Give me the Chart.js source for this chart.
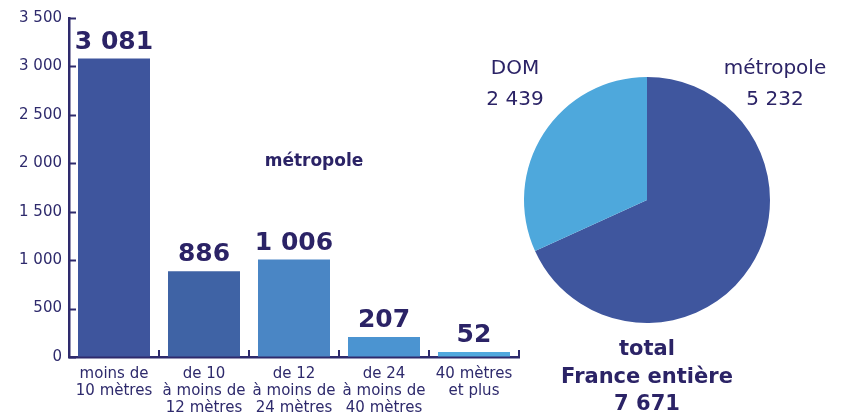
<!DOCTYPE html>
<html>
<head>
<meta charset="utf-8">
<script src="https://cdn.jsdelivr.net/npm/chart.js@4"></script>
<style>
  html, body { margin: 0; padding: 0; background: #fff; }
  #wrap { position: relative; width: 846px; height: 417px; }
  #barBox { position: absolute; left: 0; top: 0; width: 530px; height: 417px; }
  #pieBox { position: absolute; left: 460px; top: 0; width: 386px; height: 417px; }
</style>
</head>
<body>
<div id="wrap">
  <div id="barBox"><canvas id="bar"></canvas></div>
  <div id="pieBox"><canvas id="pie"></canvas></div>
</div>
<script>
// data
const categories = [
  ['moins de', '10 mètres'],
  ['de 10', 'à moins de', '12 mètres'],
  ['de 12', 'à moins de', '24 mètres'],
  ['de 24', 'à moins de', '40 mètres'],
  ['40 mètres', 'et plus']
];
const boats = [3081, 886, 1006, 207, 52];
const barColors = ['#3e559d', '#3f63a5', '#4a86c5', '#4b94d1', '#50a8de'];

const pieLabels = ['métropole', 'DOM'];
const pieValues = [5232, 2439];
const pieColors = ['#3f569e', '#4ea8dc'];
const total = 7671;

const ink = '#2b2366';
const axisInk = '#2e2a6c';
const fmt = v => String(v).replace(/\B(?=(\d{3})+(?!\d))/g, ' ');

// inward ticks on y, upward ticks at category boundaries on x, value labels
const barDeco = {
  id: 'barDeco',
  afterDraw(chart) {
    const ctx = chart.ctx;
    const y = chart.scales.y, x = chart.scales.x;
    const area = chart.chartArea;
    ctx.save();
    ctx.strokeStyle = axisInk;
    ctx.lineWidth = 2;
    y.ticks.forEach(t => {
      const py = Math.round(y.getPixelForValue(t.value)) + 0.5;
      ctx.beginPath();
      ctx.moveTo(area.left, py);
      ctx.lineTo(area.left + 7, py);
      ctx.stroke();
    });
    const step = x.getPixelForValue(1) - x.getPixelForValue(0);
    for (let i = 0; i < categories.length; i++) {
      const px = x.getPixelForValue(i) + step / 2;
      ctx.beginPath();
      ctx.moveTo(px, area.bottom);
      ctx.lineTo(px, area.bottom - 7);
      ctx.stroke();
    }
    // value labels
    ctx.fillStyle = ink;
    ctx.font = 'bold 25px "DejaVu Sans"';
    ctx.textAlign = 'center';
    ctx.textBaseline = 'alphabetic';
    const meta = chart.getDatasetMeta(0);
    meta.data.forEach((bar, i) => {
      ctx.fillText(fmt(boats[i]), bar.x, bar.y - 10);
    });
    ctx.font = 'bold 17px "DejaVu Sans"';
    ctx.textBaseline = 'middle';
    ctx.fillText('métropole', 314, 162);
    ctx.restore();
  }
};

new Chart(document.getElementById('bar'), {
  type: 'bar',
  data: {
    labels: categories,
    datasets: [{
      data: boats,
      backgroundColor: barColors,
      borderWidth: 0,
      barPercentage: 0.8,
      categoryPercentage: 1.0
    }]
  },
  options: {
    responsive: true,
    maintainAspectRatio: false,
    animation: false,
    layout: { padding: { top: 18, right: 11, bottom: 0, left: 0 } },
    plugins: { legend: { display: false }, tooltip: { enabled: false } },
    scales: {
      y: {
        min: 0, max: 3500,
        afterFit: s => { s.width = 69; },
        ticks: {
          stepSize: 500,
          padding: 7,
          color: axisInk,
          font: { family: 'DejaVu Sans', size: 15 },
          callback: v => fmt(v)
        },
        grid: { drawOnChartArea: false, drawTicks: false },
        border: { display: true, color: axisInk, width: 2.5 }
      },
      x: {
        afterFit: s => { s.height = 60; },
        ticks: {
          padding: 9,
          color: axisInk,
          font: { family: 'DejaVu Sans', size: 15, lineHeight: 1.13 },
          maxRotation: 0,
          autoSkip: false
        },
        grid: { display: false, drawTicks: false },
        border: { display: true, color: axisInk, width: 2.5 }
      }
    }
  },
  plugins: [barDeco]
});

const pieDeco = {
  id: 'pieDeco',
  afterDraw(chart) {
    const ctx = chart.ctx;
    ctx.save();
    ctx.fillStyle = ink;
    ctx.textAlign = 'center';
    ctx.textBaseline = 'middle';
    ctx.font = '20px "DejaVu Sans"';
    ctx.fillText('DOM', 55, 69);
    ctx.fillText(fmt(pieValues[1]), 55, 100);
    ctx.fillText('métropole', 315, 69);
    ctx.fillText(fmt(pieValues[0]), 315, 100);
    ctx.font = 'bold 21px "DejaVu Sans"';
    ctx.fillText('total', 187, 350);
    ctx.fillText('France entière', 187, 378);
    ctx.fillText(fmt(total), 187, 405);
    ctx.restore();
  }
};

new Chart(document.getElementById('pie'), {
  type: 'pie',
  data: {
    labels: pieLabels,
    datasets: [{
      data: pieValues,
      backgroundColor: pieColors,
      borderWidth: 0
    }]
  },
  options: {
    responsive: true,
    maintainAspectRatio: false,
    animation: false,
    layout: { padding: { top: 77, bottom: 94, left: 64, right: 76 } },
    plugins: { legend: { display: false }, tooltip: { enabled: false } }
  },
  plugins: [pieDeco]
});
</script>
</body>
</html>
